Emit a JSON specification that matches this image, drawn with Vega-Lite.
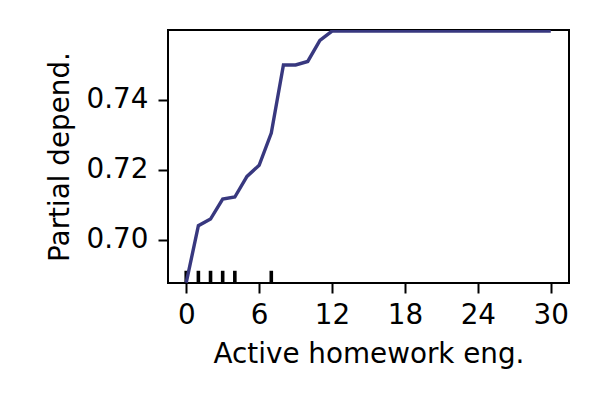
{
  "$schema": "https://vega.github.io/schema/vega-lite/v6.json",
  "autosize": {"type": "none"},
  "padding": {"left": 168, "top": 30, "right": 31, "bottom": 117},
  "width": 401,
  "height": 253,
  "background": "white",
  "config": {
    "view": {"stroke": "black", "strokeWidth": 2},
    "axis": {
      "domain": false,
      "grid": false,
      "tickColor": "black",
      "tickWidth": 2,
      "tickSize": 10,
      "labelFont": "DejaVu Sans",
      "labelFontSize": 27.8,
      "labelColor": "black",
      "titleFont": "DejaVu Sans",
      "titleFontSize": 27.8,
      "titleFontWeight": "normal",
      "titleColor": "black"
    }
  },
  "datasets": {
    "pd": [
      {"x": 0, "y": 0.6877},
      {"x": 1, "y": 0.7040},
      {"x": 2, "y": 0.7059},
      {"x": 3, "y": 0.7116},
      {"x": 4, "y": 0.7122},
      {"x": 5, "y": 0.7181},
      {"x": 6, "y": 0.7213},
      {"x": 7, "y": 0.7305},
      {"x": 8, "y": 0.7500},
      {"x": 9, "y": 0.7500},
      {"x": 10, "y": 0.7510},
      {"x": 11, "y": 0.7570},
      {"x": 12, "y": 0.7597},
      {"x": 13, "y": 0.7597},
      {"x": 14, "y": 0.7597},
      {"x": 15, "y": 0.7597},
      {"x": 16, "y": 0.7597},
      {"x": 17, "y": 0.7597},
      {"x": 18, "y": 0.7597},
      {"x": 19, "y": 0.7597},
      {"x": 20, "y": 0.7597},
      {"x": 21, "y": 0.7597},
      {"x": 22, "y": 0.7597},
      {"x": 23, "y": 0.7597},
      {"x": 24, "y": 0.7597},
      {"x": 25, "y": 0.7597},
      {"x": 26, "y": 0.7597},
      {"x": 27, "y": 0.7597},
      {"x": 28, "y": 0.7597},
      {"x": 29, "y": 0.7597},
      {"x": 30, "y": 0.7597}
    ],
    "rug": [
      {"x": 0, "y0": 0.6876, "y1": 0.6911},
      {"x": 1, "y0": 0.6876, "y1": 0.6911},
      {"x": 2, "y0": 0.6876, "y1": 0.6911},
      {"x": 3, "y0": 0.6876, "y1": 0.6911},
      {"x": 4, "y0": 0.6876, "y1": 0.6911},
      {"x": 7, "y0": 0.6876, "y1": 0.6911}
    ]
  },
  "layer": [
    {
      "data": {"name": "rug"},
      "mark": {"type": "rule", "color": "black", "strokeWidth": 3.6},
      "encoding": {
        "x": {"field": "x", "type": "quantitative"},
        "y": {"field": "y0", "type": "quantitative"},
        "y2": {"field": "y1"}
      }
    },
    {
      "data": {"name": "pd"},
      "mark": {"type": "line", "color": "#38387f", "strokeWidth": 3.4, "clip": true},
      "encoding": {
        "x": {
          "field": "x",
          "type": "quantitative",
          "scale": {"domain": [-1.5, 31.5], "nice": false, "zero": false},
          "axis": {"values": [0, 6, 12, 18, 24, 30], "title": "Active homework eng.", "labelPadding": 8, "titlePadding": 12, "labelFlush": false}
        },
        "y": {
          "field": "y",
          "type": "quantitative",
          "scale": {"domain": [0.6876, 0.76], "nice": false, "zero": false},
          "axis": {"values": [0.70, 0.72, 0.74], "format": ".2f", "title": "Partial depend.", "labelPadding": 10, "titlePadding": 12, "labelFlush": false}
        }
      }
    }
  ]
}
